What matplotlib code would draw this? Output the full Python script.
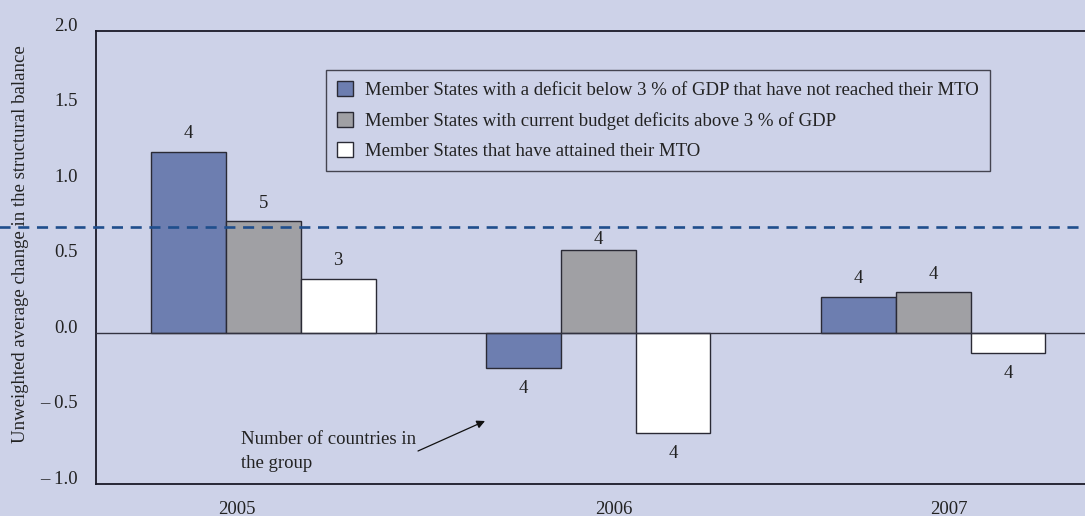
import matplotlib
matplotlib.use("Agg")
import matplotlib.pyplot as plt
import numpy as np

years = ["2005", "2006", "2007"]
series_names = [
    "Member States with a deficit below 3 % of GDP that have not reached their MTO",
    "Member States with current budget deficits above 3 % of GDP",
    "Member States that have attained their MTO",
]
below3_not_mto = [1.20, -0.23, 0.24]
above3 = [0.74, 0.55, 0.27]
attained_mto = [0.36, -0.66, -0.13]
counts_below3 = [4, 4, 4]
counts_above3 = [5, 4, 4]
counts_attained = [3, 4, 4]
average_line = 0.70
yticks = [-1.0, -0.5, 0.0, 0.5, 1.0, 1.5, 2.0]

plt.rcParams['font.family'] = ['Liberation Serif', 'DejaVu Serif']

BG = "#cdd2e8"
colors = ["#6d7eb0", "#a0a0a4", "#ffffff"]
edge = "#2a2a35"
H = 516
FS = 13.5

fig = plt.figure(figsize=(10.85, 5.16), dpi=100, facecolor=BG)
ax = fig.add_axes([0.0885, 0.062, 0.9115, 0.878])
ax.set_facecolor(BG)

x = np.arange(len(years))
w = 0.223
series = [below3_not_mto, above3, attained_mto]
counts = [counts_below3, counts_above3, counts_attained]
for i, (vals, cnts) in enumerate(zip(series, counts)):
    bars = ax.bar(x + (i - 1) * w, vals, w, color=colors[i], edgecolor=edge,
                  linewidth=1.0, label=series_names[i], zorder=3)
    for j, (b, v, c) in enumerate(zip(bars, vals, cnts)):
        off = 18 if v >= 0 else -21
        if i == 1 and j == 1:
            off = 10
        ax.annotate(str(c), (b.get_x() + b.get_width() / 2, v),
                    xytext=(0, off), textcoords="offset pixels",
                    ha="center", va="center", fontsize=FS, color="#222222")

ax.axhline(0, color="#333340", linewidth=1.0, zorder=4)
ax.axhline(average_line, xmin=-0.1, xmax=1.0, clip_on=False,
           color="#1f4e8c", linewidth=1.9, dashes=(4.2, 2.9), zorder=5)

ax.set_xlim(-0.5, 2.453)
ax.set_ylim(-1.0, 2.0)
ax.set_yticks(yticks)
ax.set_yticklabels([("\u2013 " + f"{abs(t):.1f}") if t < 0 else f"{t:.1f}" for t in yticks],
                   fontsize=FS, color="#222222")
ax.tick_params(axis="y", length=0, pad=13)
for lab in ax.get_yticklabels():
    lab.set_verticalalignment("baseline")
ax.set_xticks(x + np.array([-0.079, 0.046, 0.047]))
ax.set_xticklabels(years, fontsize=FS, color="#222222")
ax.tick_params(axis="x", length=0, pad=12)

for s in ["top", "bottom", "left"]:
    ax.spines[s].set_color("#1a1a28")
    ax.spines[s].set_linewidth(1.3)
ax.spines["right"].set_visible(False)

ax.set_ylabel("Unweighted average change in the structural balance",
              fontsize=FS, color="#222222")
ax.yaxis.set_label_coords(-0.068, 0.53)

ax.annotate("", xy=(485, H - 421), xycoords="figure pixels",
            xytext=(418, H - 451), textcoords="figure pixels",
            arrowprops=dict(arrowstyle="-|>", color="#111111", lw=0.9,
                            mutation_scale=12, shrinkA=0, shrinkB=0))
fig.text(241 / 1085, 1 - 472 / H, "Number of countries in\nthe group",
         fontsize=FS, color="#222222", ha="left", va="bottom", linespacing=1.5)

leg = ax.legend(loc="upper left", bbox_to_anchor=(326 / 1085, 1 - 70 / H),
                bbox_transform=fig.transFigure, fontsize=FS, frameon=True,
                fancybox=False, edgecolor="#444450", facecolor=BG, framealpha=1,
                handlelength=0.85, handleheight=0.85, handletextpad=0.65,
                labelspacing=0.66, borderpad=0.6, borderaxespad=0)
leg.get_frame().set_linewidth(1.0)
for t in leg.get_texts():
    t.set_color("#222222")

fig.savefig("out.png", dpi=100, facecolor=BG)
